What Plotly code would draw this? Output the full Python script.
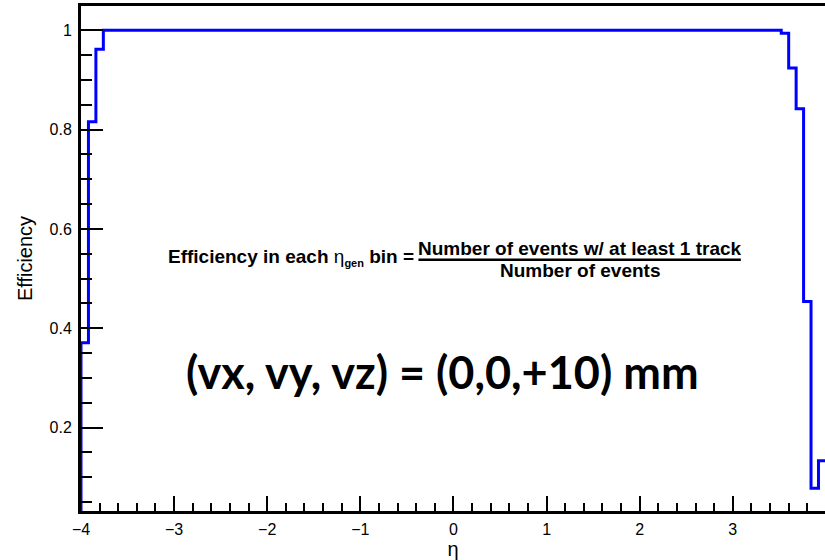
import plotly.graph_objects as go

# eta bin edges (100 bins, width 0.08, from -4 to 4)
bin_lo = -4.0
bin_width = 0.08
n_bins = 100

# efficiency per eta bin
efficiency = [
    0.371, 0.816, 0.962, 1.0, 1.0, 1.0, 1.0, 1.0, 1.0, 1.0,
    1.0, 1.0, 1.0, 1.0, 1.0, 1.0, 1.0, 1.0, 1.0, 1.0,
    1.0, 1.0, 1.0, 1.0, 1.0, 1.0, 1.0, 1.0, 1.0, 1.0,
    1.0, 1.0, 1.0, 1.0, 1.0, 1.0, 1.0, 1.0, 1.0, 1.0,
    1.0, 1.0, 1.0, 1.0, 1.0, 1.0, 1.0, 1.0, 1.0, 1.0,
    1.0, 1.0, 1.0, 1.0, 1.0, 1.0, 1.0, 1.0, 1.0, 1.0,
    1.0, 1.0, 1.0, 1.0, 1.0, 1.0, 1.0, 1.0, 1.0, 1.0,
    1.0, 1.0, 1.0, 1.0, 1.0, 1.0, 1.0, 1.0, 1.0, 1.0,
    1.0, 1.0, 1.0, 1.0, 1.0, 1.0, 1.0, 1.0, 1.0, 1.0,
    1.0, 1.0, 1.0, 1.0, 0.994, 0.924, 0.842, 0.454, 0.078, 0.133,
]

x_tickvals = [-4, -3, -2, -1, 0, 1, 2, 3, 4]
y_tickvals = [0.2, 0.4, 0.6, 0.8, 1.0]
y_ticktext = ["0.2", "0.4", "0.6", "0.8", "1"]

edges = [bin_lo + i * bin_width for i in range(n_bins + 1)]
xs = [edges[0]] + edges
ys = [0.0] + efficiency + [efficiency[-1]]

fig = go.Figure()
fig.add_trace(go.Scatter(
    x=xs, y=ys, mode="lines", line=dict(color="#0000ff", width=3, shape="hv"),
    showlegend=False, hoverinfo="skip", cliponaxis=True,
))

axis_font = dict(family="Liberation Sans, Arial, sans-serif", size=16, color="black")
title_font = dict(family="Liberation Sans, Arial, sans-serif", size=20, color="black")

fig.update_layout(
    width=825, height=560,
    margin=dict(l=81, r=0, t=6, b=49),
    paper_bgcolor="white", plot_bgcolor="white",
    xaxis=dict(
        range=[-4, 3.99], showgrid=False, zeroline=False,
        showline=True, linecolor="black", linewidth=3, mirror=True,
        ticks="inside", ticklen=15, tickwidth=1.5, tickcolor="black",
        tickvals=x_tickvals, tickfont=axis_font, ticklabelstandoff=2,
        minor=dict(dtick=0.2, tick0=0, ticks="inside", ticklen=8, tickwidth=1.5, tickcolor="black", showgrid=False),
        title=dict(text="η", font=title_font, standoff=0),
    ),
    yaxis=dict(
        range=[0.032, 1.049], showgrid=False, zeroline=False,
        showline=True, linecolor="black", linewidth=3, mirror=False,
        ticks="inside", ticklen=22, tickwidth=1.5, tickcolor="black",
        tickvals=y_tickvals, ticktext=y_ticktext, tickfont=axis_font, ticklabelstandoff=3,
        minor=dict(dtick=0.05, tick0=0, ticks="inside", ticklen=11, tickwidth=1.5, tickcolor="black", showgrid=False),
        title=dict(text="Efficiency", font=title_font, standoff=12),
    ),
)

txt_font = dict(family="Liberation Sans, Arial, sans-serif", size=19, color="black")
fig.add_annotation(
    x=-0.40, y=0.542, xref="x", yref="y", xanchor="right", yanchor="middle",
    text="<b>Efficiency in each </b>η<sub><b style='font-size:11px'>gen</b></sub><b> bin =</b>",
    showarrow=False, font=txt_font,
)
fig.add_annotation(
    x=1.355, y=0.560, xref="x", yref="y", xanchor="center", yanchor="middle",
    text="<b>Number of events w/ at least 1 track</b>", showarrow=False, font=txt_font,
)
fig.add_annotation(
    x=1.355, y=0.516, xref="x", yref="y", xanchor="center", yanchor="middle",
    text="<b>Number of events</b>", showarrow=False, font=txt_font,
)
fig.add_shape(type="line", xref="x", yref="y", x0=-0.376, x1=3.086, y0=0.538, y1=0.538,
              line=dict(color="black", width=2.5))
fig.add_annotation(
    x=-0.12, y=0.312, xref="x", yref="y", xanchor="center", yanchor="middle",
    text="<b>(vx, vy, vz) = (0,0,+10) mm</b>", showarrow=False,
    font=dict(family="Lato, Open Sans, sans-serif", size=45, color="black"),
)

fig.write_html("out.html")
